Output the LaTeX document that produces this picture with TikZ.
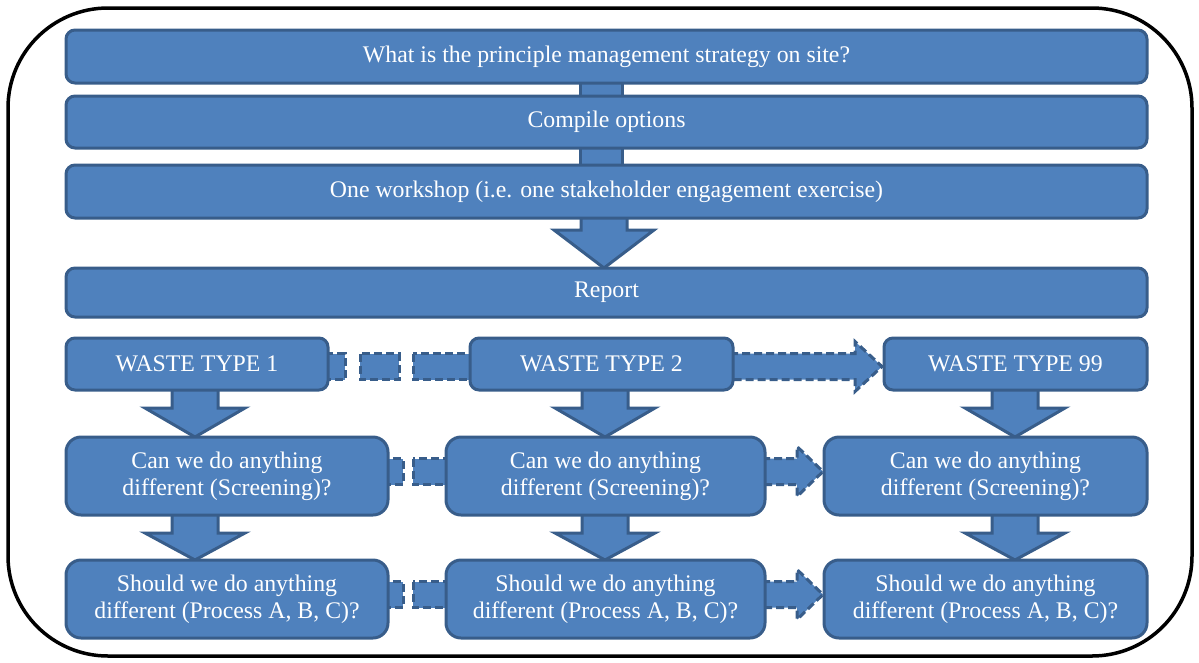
\documentclass[tikz,border=0pt]{standalone}
\usepackage{fontspec}
\setmainfont{Liberation Serif}
\usetikzlibrary{calc,backgrounds}
\definecolor{bfill}{HTML}{4F81BD}
\definecolor{bline}{HTML}{385D8A}
\newcommand\dnarrow[4]{%
  \draw[blk] (#1-23,#2) -- (#1-23,#3) -- (#1-50,#3) -- (#1,#4) -- (#1+50,#3) -- (#1+23,#3) -- (#1+23,#2) -- cycle;}
\newcommand\rtarrow[4]{% xstart, xbase, xtip, ycenter
  \draw[dblk] (#1,#4-13) -- (#2,#4-13) -- (#2,#4-25) -- (#3,#4) -- (#2,#4+25) -- (#2,#4+13) -- (#1,#4+13) -- cycle;}
\newcommand\piece[3]{% x1, x2, ycenter
  \draw[dblk] (#1,#3-13) rectangle (#2,#3+13);}
\begin{document}
\begin{tikzpicture}[x=1pt,y=-1pt,
  box/.style={draw=bline, fill=bfill, line width=3pt, rounded corners=9pt, text=white,
    font=\fontsize{23.8}{27}\selectfont, inner sep=0pt, align=center},
  bigbox/.style={box, rounded corners=15pt},
  blk/.style={draw=bline, fill=bfill, line width=3pt},
  dblk/.style={blk, dash pattern=on 8pt off 4pt}]
\useasboundingbox (0,0) rectangle (1199,662);
\draw[line width=3.5pt, rounded corners=100pt] (8,8) rectangle (1192,656);

% connectors (behind boxes)
\draw[blk] (580,80) rectangle (622,99);
\draw[blk] (580,145) rectangle (622,168);
\dnarrow{604}{214}{230}{268}
\dnarrow{195}{386}{408}{437}
\dnarrow{605}{386}{408}{437}
\dnarrow{1015}{386}{408}{437}
\dnarrow{195}{511}{533}{560}
\dnarrow{605}{511}{533}{560}
\dnarrow{1015}{511}{533}{560}
\piece{325}{345}{366.5}
\piece{360}{399}{366.5}
\piece{413}{473}{366.5}
\rtarrow{730}{855}{882}{366.5}
\piece{385}{403}{471.5}
\piece{413}{448}{471.5}
\rtarrow{762}{797}{823}{471.5}
\piece{385}{403}{594.5}
\piece{413}{448}{594.5}
\rtarrow{762}{797}{823}{594.5}

% boxes
\node[box, minimum width=1081pt, minimum height=53pt] (q) at (606.5,56.5) {What is the principle management strategy on site?};
\node[box, minimum width=1081pt, minimum height=52pt] (c) at (606.5,122) {Compile options};
\node[box, minimum width=1081pt, minimum height=53pt] (w) at (606.5,191.5) {One workshop (i.e. one stakeholder engagement exercise)};
\node[box, minimum width=1081pt, minimum height=49pt] (r) at (606.5,292.5) {Report};
\node[box, minimum width=262pt, minimum height=52pt] (t1) at (197,364) {WASTE TYPE 1};
\node[box, minimum width=263pt, minimum height=52pt] (t2) at (601.5,364) {WASTE TYPE 2};
\node[box, minimum width=263pt, minimum height=52pt] (t3) at (1015.5,364) {WASTE TYPE 99};
\node[bigbox, minimum width=322pt, minimum height=78pt] (s1) at (227,476) {Can we do anything\\different (Screening)?};
\node[bigbox, minimum width=319pt, minimum height=78pt] (s2) at (605.5,476) {Can we do anything\\different (Screening)?};
\node[bigbox, minimum width=323pt, minimum height=78pt] (s3) at (985.5,476) {Can we do anything\\different (Screening)?};
\node[bigbox, minimum width=322pt, minimum height=78pt] (p1) at (227,599) {Should we do anything\\different (Process A, B, C)?};
\node[bigbox, minimum width=319pt, minimum height=78pt] (p2) at (605.5,599) {Should we do anything\\different (Process A, B, C)?};
\node[bigbox, minimum width=323pt, minimum height=78pt] (p3) at (985.5,599) {Should we do anything\\different (Process A, B, C)?};
\end{tikzpicture}
\end{document}
